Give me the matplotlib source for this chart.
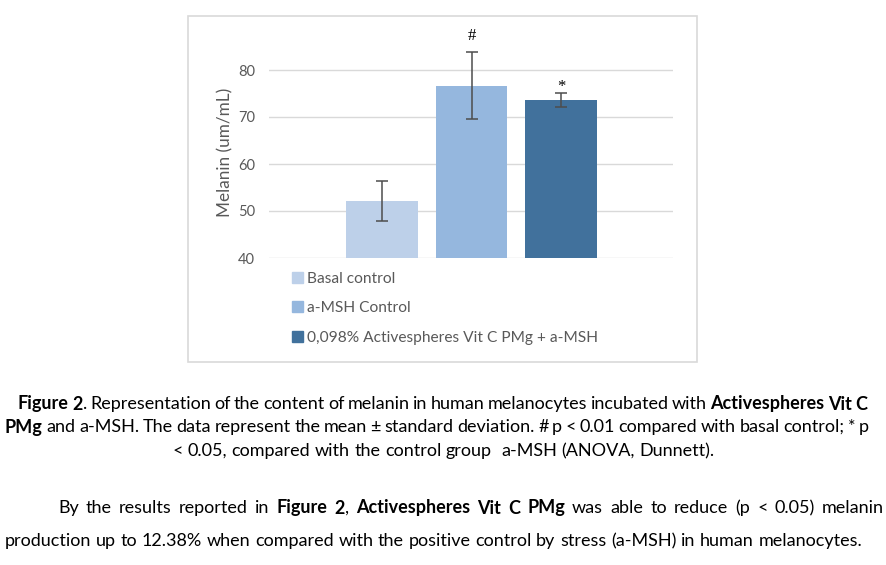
import numpy as np
import matplotlib.pyplot as plt
from matplotlib.patches import Rectangle

groups = ['Basal control', 'a-MSH Control', '0,098% Activespheres Vit C PMg + a-MSH']
means = [52.1, 76.7, 73.6]
sds = [4.3, 7.1, 1.5]
marks = ['', '#', '*']
colors = ['#BDD0E9', '#95B7DE', '#41719C']
yticks = [40, 50, 60, 70, 80]

caption = [
    ("**Figure 2**. Representation of the content of melanin in human melanocytes incubated with **Activespheres Vit C**", 404, 18, 867, 'justify'),
    ("**PMg** and a-MSH. The data represent the mean \u00b1 standard deviation. # p < 0.01 compared with basal control; * p", 427, 5, 869, 'justify'),
    ("< 0.05, compared with the control group  a-MSH (ANOVA, Dunnett).", 451, 168, 719, 'center'),
    ("By the results reported in **Figure 2**, **Activespheres Vit C PMg** was able to reduce (p < 0.05) melanin", 508, 58, 884, 'justify'),
    ("production up to 12.38% when compared with the positive control by stress (a-MSH) in human melanocytes.", 541, 5, 848, 'left'),
]

W, H = 887, 565
fig = plt.figure(figsize=(W / 100, H / 100), dpi=100)
plt.rcParams['font.family'] = ['Lato', 'DejaVu Sans']

# chart frame
fig.patches.append(Rectangle((188 / W, 1 - 362 / H), (697 - 188) / W, (362 - 16) / H,
                             transform=fig.transFigure, fill=False, ec='#D9D9D9', lw=1.2))

ax = fig.add_axes([269 / W, 1 - 258 / H, (673 - 269) / W, 45 * 4.7 / H])
x = np.arange(len(means))
ax.bar(x, means, width=0.8, color=colors, zorder=3)
ax.errorbar(x, means, yerr=sds, fmt='none', ecolor='#4D4D4D', elinewidth=1.1,
            capsize=4, capthick=1.1, zorder=4)
mark_off = {'#': 1.8, '*': -0.5}
for xi, m, s, mk in zip(x, means, sds, marks):
    if mk:
        ax.text(xi, m + s + mark_off[mk], mk, ha='center', va='bottom', fontsize=12,
                family=['Liberation Serif', 'DejaVu Serif'], color='#000000')
ax.set_xlim(-1.263, 3.25)
ax.set_ylim(40, 85)
ax.set_yticks(yticks)
ax.set_xticks([])
ax.grid(axis='y', color='#D9D9D9', lw=1, zorder=0)
for sp in ax.spines.values():
    sp.set_visible(False)
ax.tick_params(axis='y', length=0, labelsize=10.5, labelcolor='#595959', pad=10)
ax.set_ylabel('Melanin (um/mL)', fontsize=12.3, color='#595959', labelpad=3)

handles = [Rectangle((0, 0), 1, 1, color=c) for c in colors]
fig.legend(handles, groups, loc='upper left', bbox_to_anchor=(284 / W, 1 - 264 / H),
           frameon=False, fontsize=11.2, labelcolor='#595959', handlelength=0.7,
           handleheight=0.7, handletextpad=0.25, labelspacing=1.0, borderpad=0)

# caption text, word by word
renderer = fig.canvas.get_renderer()
cap_family = ['Lato', 'DejaVu Sans']


def measure(word, bold, size):
    t = fig.text(0, 0, word, fontsize=size, family=cap_family,
                 fontweight='bold' if bold else 'normal')
    w = t.get_window_extent(renderer).width
    t.remove()
    return w


def parse(line):
    words = []
    bold = False
    for raw in line.split(' '):
        pieces = []
        for i, part in enumerate(raw.split('**')):
            if i > 0:
                bold = not bold
            if part:
                pieces.append((part, bold))
        words.append(pieces)
    return words


def natural_width(line, size):
    words = parse(line)
    space = measure('a a', False, size) - 2 * measure('a', False, size)
    return sum(measure(p, b, size) for w in words for p, b in w) + space * (len(words) - 1)


# fit the font size to the two lines that are not justified
fits = [10 * (c[3] - c[2]) / natural_width(c[0], 10) for c in caption if c[4] != 'justify']
cap_size = sum(fits) / len(fits)

for line, ypix, x0, x1, mode in caption:
    words = parse(line)
    widths = [sum(measure(p, b, cap_size) for p, b in w) for w in words]
    space = measure('a a', False, cap_size) - 2 * measure('a', False, cap_size)
    if mode == 'justify':
        gap = (x1 - x0 - sum(widths)) / (len(words) - 1)
        xs = x0
    else:
        gap = space
        total = sum(widths) + gap * (len(words) - 1)
        xs = x0 if mode == 'left' else (x0 + x1) / 2 - total / 2
    for w, wd in zip(words, widths):
        xp = xs
        for p, b in w:
            fig.text(xp / W, 1 - ypix / H, p, fontsize=cap_size, family=cap_family,
                     fontweight='bold' if b else 'normal', va='center', color='#000000')
            xp += measure(p, b, cap_size)
        xs += wd + gap

fig.savefig('out.png', dpi=100)
